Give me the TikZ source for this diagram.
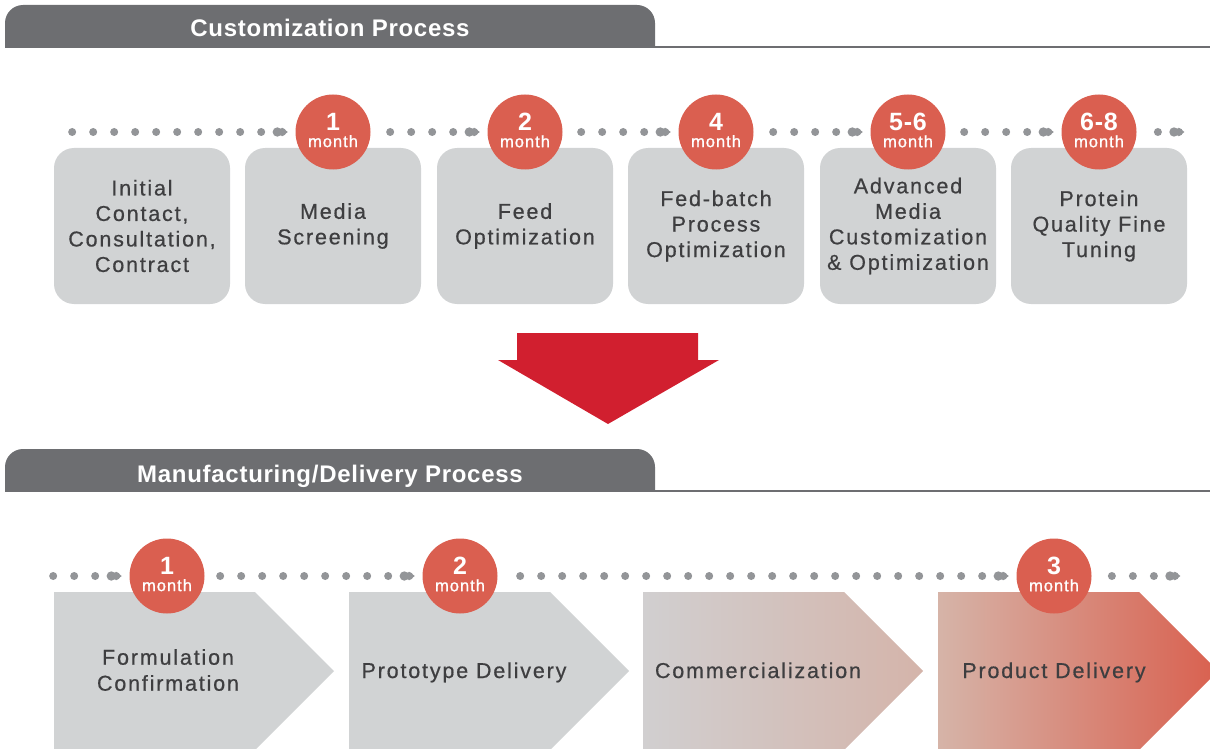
\documentclass[tikz,border=0pt]{standalone}
\usepackage{fontspec}
\setmainfont{Liberation Sans}
\newfontfamily\stepfont{Liberation Sans}[LetterSpace=8.5,FakeBold=0.6]
\newfontfamily\monthfont{Liberation Sans}[LetterSpace=6,FakeBold=1.2]
\newfontfamily\hdrfont{Liberation Sans}[LetterSpace=3]
\usetikzlibrary{arrows.meta,calc}
\definecolor{hdrgray}{HTML}{6D6E71}
\definecolor{boxgray}{HTML}{D1D3D4}
\definecolor{dotgray}{HTML}{939598}
\definecolor{txtgray}{HTML}{3E3E40}
\definecolor{monthred}{HTML}{DA5F50}
\definecolor{bigred}{HTML}{D11F2F}
\definecolor{comleft}{HTML}{D1CFD0}
\definecolor{comright}{HTML}{D4B4AA}
\definecolor{prodleft}{HTML}{D6B4A8}
\definecolor{prodright}{HTML}{D9604F}
\tikzset{
  hdrtext/.style={text=white,inner sep=0pt,font=\hdrfont\bfseries\fontsize{24}{28}\selectfont},
  stepbox/.style={fill=boxgray,rounded corners=20pt,minimum width=176pt,minimum height=156pt,
    inner sep=0pt,align=center,text=txtgray,font=\stepfont\fontsize{21.5}{25.5}\selectfont},
  phasetext/.style={inner sep=0pt,align=center,text=txtgray,font=\stepfont\fontsize{21.5}{26}\selectfont},
  monthdot/.style={circle,fill=monthred,minimum size=75pt,inner sep=0pt,align=center,text=white,
    text depth=4pt,font=\monthfont\fontsize{16.5}{17}\selectfont},
  % dots run back from the tip, so the tip always sits on the beat
  dotline/.style={dotgray,line width=8pt,line cap=round,dash pattern=on 0pt off 21pt,
    {Triangle[length=6pt,width=8.5pt,sep=-2.5pt]Circle[length=9pt]}-}
}
\newcommand{\mnum}[1]{{\hdrfont\bfseries\fontsize{25}{17}\selectfont #1}}

\begin{document}
\begin{tikzpicture}[x=1pt,y=-1pt]
    \useasboundingbox (0,0) rectangle (1210,749);

    % customization
    \fill[hdrgray,rounded corners=18pt] (5,47) -- (5,5) -- (655,5) -- (655,47);
    \draw[hdrgray,line width=2pt] (5,47) -- (1210,47);
    \node[hdrtext,anchor=base] (hcust) at (330,37) {Customization Process};

    \node[stepbox] (s1) at (142,226) {Initial\\Contact,\\Consultation,\\Contract};
    \node[stepbox] (s2) at (333,226) {Media\\Screening};
    \node[stepbox] (s3) at (525,226) {Feed\\Optimization};
    \node[stepbox] (s4) at (716,226) {Fed-batch\\Process\\Optimization};
    \node[stepbox] (s5) at (908,226) {Advanced\\Media\\Customization\\\& Optimization};
    \node[stepbox] (s6) at (1099,226) {Protein\\Quality Fine\\Tuning};

    \node[monthdot] (t1) at (333,132) {\mnum{1}\\month};
    \node[monthdot] (t2) at (525,132) {\mnum{2}\\month};
    \node[monthdot] (t3) at (716,132) {\mnum{4}\\month};
    \node[monthdot] (t4) at (908,132) {\mnum{5-6}\\month};
    \node[monthdot] (t5) at (1099,132) {\mnum{6-8}\\month};

    \coordinate (tstart) at (68,132);
    \coordinate (tend) at (1182,132);
    \draw[dotline,shorten <=10pt] (t1) -- (tstart);
    \draw[dotline,shorten <=10pt,shorten >=14.5pt] (t2) -- (t1);
    \draw[dotline,shorten <=10pt,shorten >=14.5pt] (t3) -- (t2);
    \draw[dotline,shorten <=10pt,shorten >=14.5pt] (t4) -- (t3);
    \draw[dotline,shorten <=10pt,shorten >=14.5pt] (t5) -- (t4);
    \draw[dotline,shorten >=14.5pt] (tend) -- (t5);

    \fill[bigred] (517,333) -- (698,333) -- (698,360) -- (719,360) -- (608,424) -- (498,360) -- (517,360) -- cycle;

    % manufacturing / delivery
    \fill[hdrgray,rounded corners=18pt] (5,491) -- (5,449) -- (655,449) -- (655,491);
    \draw[hdrgray,line width=2pt] (5,491) -- (1210,491);
    \node[hdrtext,anchor=base] (hmanu) at (330,482) {Manufacturing/Delivery Process};

    \fill[boxgray] (54,592) -- (255,592) -- (334,671) -- (255,750) -- (54,750) -- cycle;
    \fill[boxgray] (349,592) -- (550,592) -- (629,671) -- (550,750) -- (349,750) -- cycle;
    \shade[left color=comleft,right color=comright] (643,592) -- (844,592) -- (923,671) -- (844,750) -- (643,750) -- cycle;
    \shade[left color=prodleft,right color=prodright] (938,592) -- (1139,592) -- (1218,671) -- (1139,750) -- (938,750) -- cycle;

    \node[phasetext] (p1) at (168,670) {Formulation\\Confirmation};
    \node[phasetext,anchor=base] (p2) at (464,678) {Prototype Delivery};
    \node[phasetext,anchor=base] (p3) at (758,678) {Commercialization};
    \node[phasetext,anchor=base] (p4) at (1054,678) {Product Delivery};

    \node[monthdot] (b1) at (167,576) {\mnum{1}\\month};
    \node[monthdot] (b2) at (460,576) {\mnum{2}\\month};
    \node[monthdot] (b3) at (1054,576) {\mnum{3}\\month};

    \coordinate (bstart) at (52,576);
    \coordinate (bend) at (1178,576);
    \draw[dotline,shorten <=10pt] (b1) -- (bstart);
    \draw[dotline,shorten <=10pt,shorten >=14.5pt] (b2) -- (b1);
    \draw[dotline,shorten <=10pt,shorten >=14.5pt] (b3) -- (b2);
    \draw[dotline,shorten >=14.5pt] (bend) -- (b3);
\end{tikzpicture}
\end{document}
